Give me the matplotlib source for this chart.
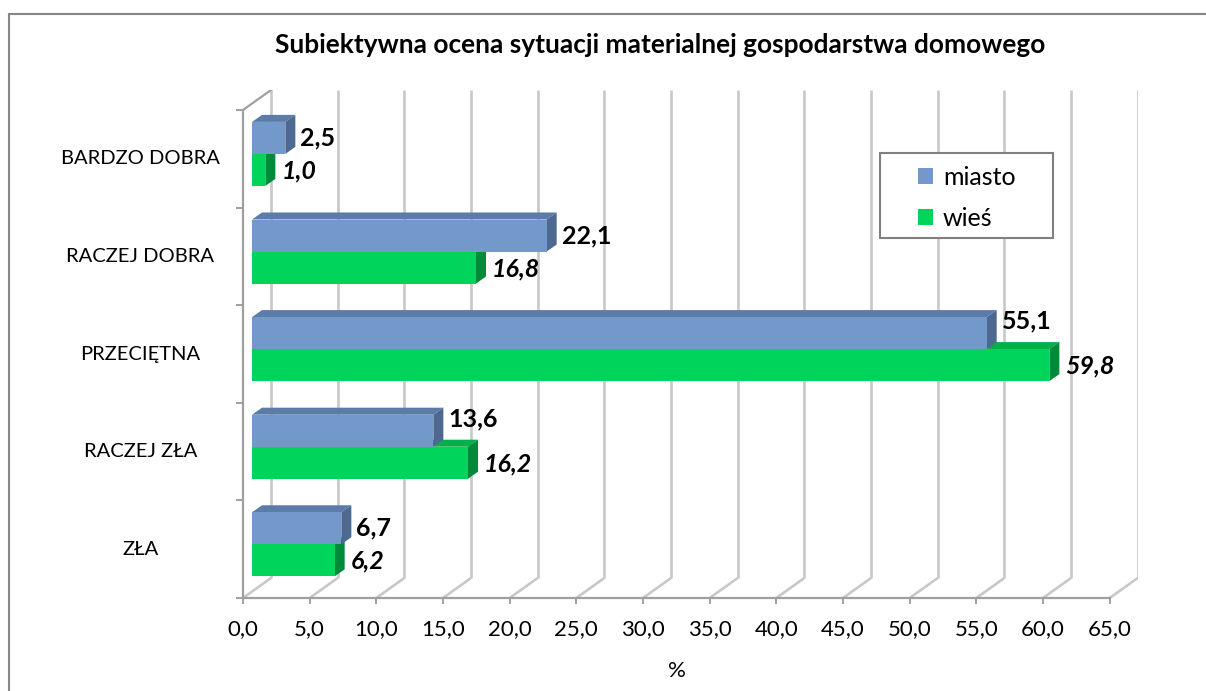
import matplotlib.pyplot as plt
import numpy as np
from matplotlib.patches import Polygon, Rectangle, Patch

plt.rcParams['font.family'] = ['Lato', 'DejaVu Sans']

# data
categories = ['ZŁA', 'RACZEJ ZŁA', 'PRZECIĘTNA', 'RACZEJ DOBRA', 'BARDZO DOBRA']
miasto = [6.7, 13.6, 55.1, 22.1, 2.5]
wies = [6.2, 16.2, 59.8, 16.8, 1.0]
x_ticks = np.arange(0, 70, 5)

title = 'Subiektywna ocena sytuacji materialnej gospodarstwa domowego'

# colours
blue, blue_top, blue_side = '#7399ca', '#5b7ba8', '#4d6891'
green, green_top, green_side = '#00d45a', '#00b04a', '#008a3a'
grid_col = '#c8c8c8'
axis_col = '#a0a0a0'

# 3D look (data units)
WX, WY = 2.1, 0.205       # wall depth
BX0 = 0.675               # bar front face start
DX, DY = 0.75, 0.072      # bar depth
BH = 0.328                # bar height
SHIFT = 0.05

fig = plt.figure(figsize=(12.06, 6.91), dpi=100)
ax = fig.add_axes([243 / 1206, 93 / 691, 894.7 / 1206, 508 / 691])
ax.set_xlim(0, 65 + WX)
ax.set_ylim(0, 5 + WY)

# floor and back wall grid
for v in x_ticks:
    ax.plot([v, v + WX], [0, WY], color=grid_col, lw=1.9, zorder=1, solid_capstyle='butt')
    ax.plot([v + WX, v + WX], [WY, 5 + WY], color=grid_col, lw=1.9, zorder=1, solid_capstyle='butt')
ax.plot([0, WX], [5, 5 + WY], color=axis_col, lw=1.6, zorder=1)

for s in ['top', 'right']:
    ax.spines[s].set_visible(False)
ax.spines['left'].set_bounds(0, 5)
ax.spines['bottom'].set_bounds(0, 65)
for s in ['left', 'bottom']:
    ax.spines[s].set_color(axis_col)
    ax.spines[s].set_linewidth(1.6)

ax.set_xticks(x_ticks)
ax.set_xticklabels([f'{v:.1f}'.replace('.', ',') for v in x_ticks], fontsize=16)
ax.tick_params(axis='x', length=4, width=1.4, color=axis_col, pad=11)
ax.set_yticks(np.arange(0, 6))
ax.set_yticklabels([])
ax.tick_params(axis='y', which='major', length=5, width=1.4, color=axis_col)
ax.set_yticks(np.arange(5) + 0.5, minor=True)
ax.set_yticklabels(categories, minor=True, fontsize=14.5, ha='center', va='center')
ax.tick_params(axis='y', which='minor', length=0, pad=74)

ax.set_xlabel('%', fontsize=16)
ax.xaxis.set_label_coords(0.485, -0.124)

y = np.arange(5) + 0.5 + SHIFT
yb = y + BH / 2
yg = y - BH / 2


def box(yc, val, top, side, z):
    bot, tp = yc - BH / 2, yc + BH / 2
    x1 = BX0 + val
    ax.add_patch(Polygon([(BX0, tp), (x1, tp), (x1 + DX, tp + DY), (BX0 + DX, tp + DY)],
                         closed=True, facecolor=top, edgecolor='none', zorder=z))
    ax.add_patch(Polygon([(x1, bot), (x1, tp), (x1 + DX, tp + DY), (x1 + DX, bot + DY)],
                         closed=True, facecolor=side, edgecolor='none', zorder=z))


for i in range(5):
    box(yg[i], wies[i], green_top, green_side, 3)
ax.barh(yg, wies, height=BH, left=BX0, color=green, zorder=3)
for i in range(5):
    box(yb[i], miasto[i], blue_top, blue_side, 4)
ax.barh(yb, miasto, height=BH, left=BX0, color=blue, zorder=4)

for i in range(5):
    up = 12 if wies[i] > miasto[i] else 0
    ax.annotate(f'{miasto[i]:.1f}'.replace('.', ','), (BX0 + miasto[i] + DX, yb[i]),
                xytext=(5, up), textcoords='offset pixels', ha='left', va='center',
                fontsize=18, fontweight='bold', zorder=6)
    ax.annotate(f'{wies[i]:.1f}'.replace('.', ','), (BX0 + wies[i] + DX, yg[i]),
                xytext=(6, -1), textcoords='offset pixels', ha='left', va='center',
                fontsize=18, fontweight='bold', fontstyle='italic', zorder=6)

# legend: frame drawn as a separate box, entries placed inside
ax.add_patch(Rectangle((880 / 1206, 1 - 238 / 691), 173 / 1206, 85 / 691,
                       transform=fig.transFigure, facecolor='white', clip_on=False,
                       edgecolor='#808080', lw=1.5, zorder=6))
handles = [Patch(facecolor=blue, label='miasto'), Patch(facecolor=green, label='wieś')]
leg = ax.legend(handles=handles, loc='upper left', bbox_to_anchor=(918 / 1206, 1 - 166 / 691),
                bbox_transform=fig.transFigure, borderaxespad=0, borderpad=0,
                frameon=False, fontsize=18, handlelength=0.6, handleheight=0.6,
                labelspacing=0.7, handletextpad=0.4)
leg.set_zorder(7)

fig.text(660 / 1206, 1 - 45 / 691, title, ha='center', va='center', fontsize=18.9, fontweight='bold')

fig.patches.append(Rectangle((9 / 1206, -0.05), 1.1, 1.05 - 14 / 691, transform=fig.transFigure,
                             fill=False, edgecolor='#868686', lw=1.5))

plt.savefig('out.png', dpi=100)
